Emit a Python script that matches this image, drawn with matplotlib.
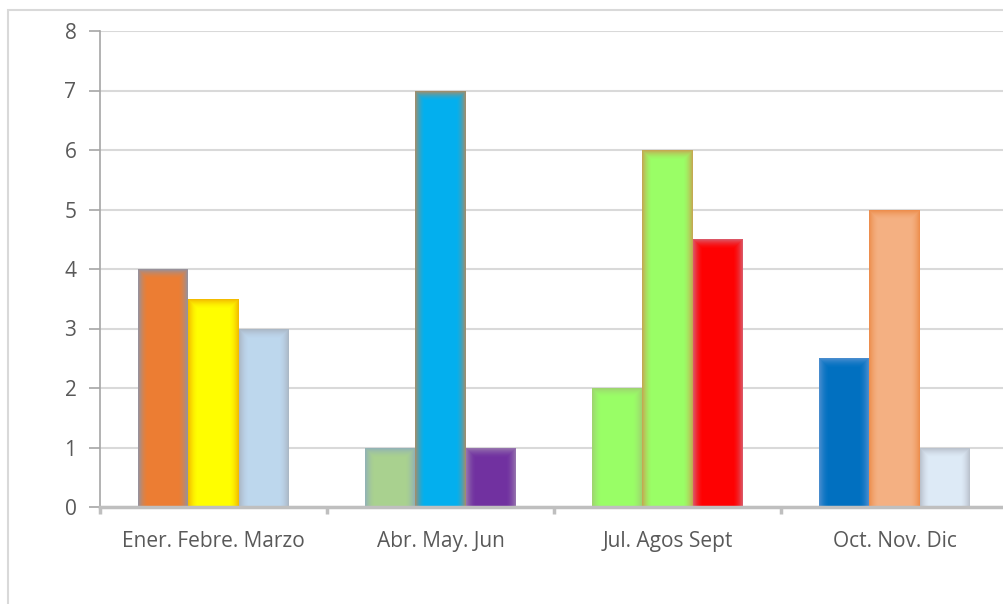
import matplotlib
matplotlib.use("Agg")
import matplotlib.pyplot as plt
import matplotlib.colors as mcolors
from matplotlib.patches import Rectangle
import numpy as np

categories = ["Ener. Febre. Marzo", "Abr. May. Jun", "Jul. Agos Sept", "Oct. Nov. Dic"]
bar1 = [4, 1, 2, 2.5]
bar2 = [3.5, 7, 6, 5]
bar3 = [3, 1, 4.5, 1]
yticks = [0, 1, 2, 3, 4, 5, 6, 7, 8]

fills = [
    ["#ED7D31", "#FFFF00", "#BDD7EE"],
    ["#A9D18E", "#00B0F0", "#7030A0"],
    ["#99FF66", "#99FF66", "#FF0000"],
    ["#0070C0", "#F4B183", "#DEEBF7"],
]
glows = [
    ["#8E93A6", "#F2B400", "#A9B4C2"],
    ["#8FB0B8", "#B08A60", "#9878AE"],
    ["#9ED070", "#C8A050", "#D86070"],
    ["#4F8FD0", "#EC8A48", "#B6BDC8"],
]

plt.rcParams['font.family'] = ['Open Sans', 'DejaVu Sans']

W, H = 1004, 604
fig = plt.figure(figsize=(W / 100, H / 100), dpi=100)
fig.patch.set_facecolor("white")

# chart border
fig.patches.append(Rectangle((8 / W, -0.2), 1.2, (H - 10) / H + 0.2, transform=fig.transFigure,
                             fill=False, edgecolor="#D9D9D9", linewidth=1.5, zorder=0))

ax_left, ax_right = 100, 1008
ax_top, ax_bot = 31, 507
ax = fig.add_axes([ax_left / W, (H - ax_bot) / H, (ax_right - ax_left) / W, (ax_bot - ax_top) / H])
ax.set_facecolor("none")

ax.set_xlim(-0.5, len(categories) - 0.5)
ax.set_ylim(0, 8)

px_x = 1.0 / (ax_right - ax_left) * len(categories)
px_y = 8.0 / (ax_bot - ax_top)

bw = 0.222
x = np.arange(len(categories))
series = [bar1, bar2, bar3]
offsets = [-bw, 0, bw]
nlayers = 10
for s, (vals, off) in enumerate(zip(series, offsets)):
    for i in range(len(categories)):
        fc = np.array(mcolors.to_rgb(fills[i][s]))
        gc = np.array(mcolors.to_rgb(glows[i][s]))
        for k in range(nlayers):
            t = (1 - k / nlayers) ** 1.8 * 0.9
            col = fc * (1 - t) + gc * t
            w = bw - 2 * k * px_x
            h = vals[i] - k * px_y
            ax.bar(x[i] + off, h, width=w, color=col, linewidth=0, zorder=3 + k * 0.01)

ax.set_yticks(yticks)
ax.grid(axis="y", color="#D9D9D9", linewidth=1.5, zorder=1)
ax.set_axisbelow(True)

ax.set_xticks(x)
ax.set_xticklabels(categories)
ax.set_xticks(np.arange(len(categories) + 1) - 0.5, minor=True)
ax.tick_params(axis="x", which="major", length=0, pad=17, labelsize=15, labelcolor="#595959")
ax.tick_params(axis="x", which="minor", length=5, width=2.5, color="#BFBFBF", direction="out")
ax.tick_params(axis="y", length=8, width=1.2, color="#A6A6A6", pad=9, labelsize=15, labelcolor="#595959")

for sp in ["top", "right"]:
    ax.spines[sp].set_visible(False)
ax.spines["left"].set_color("#A6A6A6")
ax.spines["left"].set_linewidth(1.2)
ax.spines["bottom"].set_color("#BFBFBF")
ax.spines["bottom"].set_linewidth(2.5)
ax.spines["bottom"].set_zorder(5)

fig.savefig("out.png", dpi=100, facecolor="white")
